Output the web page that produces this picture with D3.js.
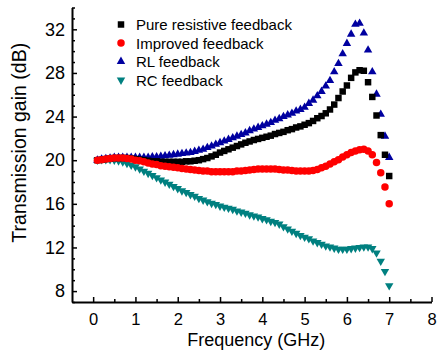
<!DOCTYPE html>
<html>
<head>
<meta charset="utf-8">
<script src="https://d3js.org/d3.v7.min.js"></script>
<style>
  body { margin: 0; background: #fff; }
  text { font-family: "Liberation Sans", Arial, sans-serif; }
</style>
</head>
<body>
<div id="my_dataviz"></div>
<script>
// frequency points (GHz)
var freq = [0.1,0.2,0.3,0.4,0.5,0.6,0.7,0.8,0.9,1.0,
  1.1,1.2,1.3,1.4,1.5,1.6,1.7,1.8,1.9,2.0,
  2.1,2.2,2.3,2.4,2.5,2.6,2.7,2.8,2.9,3.0,
  3.1,3.2,3.3,3.4,3.5,3.6,3.7,3.8,3.9,4.0,
  4.1,4.2,4.3,4.4,4.5,4.6,4.7,4.8,4.9,5.0,
  5.1,5.2,5.3,5.4,5.5,5.6,5.7,5.8,5.9,6.0,
  6.1,6.2,6.3,6.4,6.5,6.6,6.7,6.8,6.9,7.0];

// transmission gain (dB)
var pureResistive = [20.0,20.05,20.1,20.15,20.2,20.2,20.2,20.2,20.15,20.1,
  20.05,20.0,19.95,19.9,19.9,19.85,19.85,19.85,19.85,19.85,
  19.85,19.9,19.9,19.95,20.0,20.1,20.2,20.35,20.5,20.7,
  20.85,21.0,21.15,21.3,21.45,21.6,21.72,21.85,21.95,22.05,
  22.15,22.25,22.4,22.5,22.6,22.75,22.85,23.0,23.1,23.25,
  23.4,23.6,23.85,24.05,24.3,24.65,25.1,25.7,26.3,26.85,
  27.55,28.05,28.25,28.2,27.15,25.8,24.1,22.3,20.5,18.55];

var improved = [20.0,20.05,20.1,20.15,20.2,20.2,20.2,20.15,20.1,20.0,
  19.95,19.85,19.75,19.65,19.6,19.5,19.45,19.4,19.35,19.3,
  19.25,19.2,19.15,19.1,19.05,19.0,19.0,18.95,18.95,18.95,
  18.95,18.95,18.95,19.0,19.0,19.05,19.1,19.15,19.2,19.2,
  19.2,19.2,19.2,19.15,19.1,19.1,19.05,19.0,19.0,19.0,
  19.0,19.05,19.15,19.3,19.45,19.65,19.85,20.05,20.3,20.5,
  20.7,20.85,20.95,21.0,20.85,20.5,19.8,18.85,17.55,16.0];

var rlFeedback = [20.0,20.1,20.15,20.2,20.25,20.25,20.25,20.25,20.25,20.25,
  20.25,20.25,20.25,20.3,20.3,20.35,20.4,20.45,20.5,20.55,
  20.6,20.65,20.7,20.8,20.9,21.0,21.15,21.3,21.45,21.6,
  21.75,21.9,22.05,22.2,22.35,22.5,22.7,22.85,23.0,23.15,
  23.3,23.45,23.65,23.8,24.0,24.15,24.3,24.5,24.65,24.85,
  25.2,25.5,25.9,26.3,26.8,27.3,28.1,28.85,29.75,30.7,
  31.55,32.45,32.55,31.65,30.1,28.1,26.05,24.2,22.2,20.25];

var rcFeedback = [20.0,20.05,20.05,20.05,20.0,19.95,19.85,19.7,19.55,19.4,
  19.2,19.0,18.8,18.6,18.4,18.2,18.0,17.8,17.6,17.4,
  17.2,17.05,16.85,16.7,16.5,16.35,16.2,16.05,15.95,15.8,
  15.7,15.6,15.5,15.35,15.25,15.15,15.0,14.9,14.8,14.65,
  14.55,14.4,14.3,14.15,13.9,13.7,13.5,13.3,13.1,12.95,
  12.8,12.6,12.45,12.3,12.15,12.05,11.95,11.85,11.85,11.85,
  11.9,11.95,12.0,12.05,12.05,11.9,11.5,10.75,9.8,8.5];

var seriesNames = ["Pure resistive feedback", "Improved feedback", "RL feedback", "RC feedback"];
var xTicks = [0,1,2,3,4,5,6,7,8];
var yTicks = [8,12,16,20,24,28,32];

// set the dimensions and margins of the graph
var margin = {top: 7.5, right: 8, bottom: 52, left: 72},
    width = 440 - margin.left - margin.right,
    height = 354 - margin.top - margin.bottom;

var svg = d3.select("#my_dataviz")
  .append("svg")
    .attr("width", 440)
    .attr("height", 354)
  .append("g")
    .attr("transform", "translate(" + margin.left + "," + margin.top + ")");

var x = d3.scaleLinear().domain([-0.5, 8]).range([0, width - 0.5]);
var y = d3.scaleLinear().domain([7, 34]).range([height, 0]);

var xMinor = [];
xTicks.forEach(function(t) { if (t < 8) xMinor.push(t + 0.5); });
var yMinor = [];
for (var v = 7; v <= 34; v++) { if (yTicks.indexOf(v) < 0) yMinor.push(v); }

// minor ticks first
svg.append("g")
  .attr("class", "minor")
  .attr("transform", "translate(0," + height + ")")
  .call(d3.axisBottom(x).tickValues(xMinor).tickSize(-3).tickFormat(""));
svg.append("g")
  .attr("class", "minor")
  .call(d3.axisLeft(y).tickValues(yMinor).tickSize(-3).tickFormat(""));

// X axis
svg.append("g")
  .attr("class", "axis xaxis")
  .attr("transform", "translate(0," + height + ")")
  .call(d3.axisBottom(x).tickValues(xTicks).tickSize(-5).tickSizeOuter(0).tickPadding(11));

// Y axis
svg.append("g")
  .attr("class", "axis yaxis")
  .call(d3.axisLeft(y).tickValues(yTicks).tickSize(-5).tickSizeOuter(0).tickPadding(7));

svg.selectAll(".minor .domain").remove();
svg.selectAll(".axis .domain").attr("stroke", "#000").attr("stroke-width", 2);
svg.selectAll(".axis .tick line, .minor .tick line").attr("stroke", "#000").attr("stroke-width", 1.5);
svg.selectAll(".axis .tick text").attr("fill", "#000");
svg.selectAll(".xaxis .tick text").style("font-size", "16.5px");
svg.selectAll(".yaxis .tick text").style("font-size", "18px");

// axis titles
svg.append("text")
  .attr("x", x(4) - 6)
  .attr("y", height + 44)
  .attr("text-anchor", "middle")
  .style("font-size", "18px")
  .text("Frequency (GHz)");

svg.append("text")
  .attr("transform", "translate(" + (-46) + "," + (y(21.6)) + ") rotate(-90)")
  .attr("text-anchor", "middle")
  .style("font-size", "19.5px")
  .text("Transmission gain (dB)");

// series, drawn back to front
var series = [
  {name: seriesNames[2], values: rlFeedback, shape: d3.symbolTriangle, size: 31, rot: 0, color: "#0000a0"},
  {name: seriesNames[3], values: rcFeedback, shape: d3.symbolTriangle, size: 31, rot: 180, color: "#008080"},
  {name: seriesNames[0], values: pureResistive, shape: d3.symbolSquare, size: 42, rot: 0, color: "#000000"},
  {name: seriesNames[1], values: improved, shape: d3.symbolCircle, size: 44, rot: 0, color: "#ff0000"}
];

series.forEach(function(s) {
  svg.append("g")
    .selectAll("path")
    .data(freq.map(function(f, i) { return {f: f, v: s.values[i]}; }))
    .enter()
    .append("path")
      .attr("d", d3.symbol().type(s.shape).size(s.size))
      .attr("transform", function(d) {
        return "translate(" + x(d.f) + "," + y(d.v) + ") rotate(" + s.rot + ")";
      })
      .attr("fill", s.color);
});

// legend
var legend = svg.append("g").attr("transform", "translate(49,17)");
seriesNames.forEach(function(name, i) {
  var s = series.filter(function(d) { return d.name == name; })[0];
  var row = legend.append("g").attr("transform", "translate(0," + (i * 18.5) + ")");
  row.append("path")
    .attr("d", d3.symbol().type(s.shape).size(s.size))
    .attr("transform", "rotate(" + s.rot + ")")
    .attr("fill", s.color);
  row.append("text")
    .attr("x", 15)
    .attr("y", 5.5)
    .style("font-size", "15px")
    .text(name);
});
</script>
</body>
</html>
